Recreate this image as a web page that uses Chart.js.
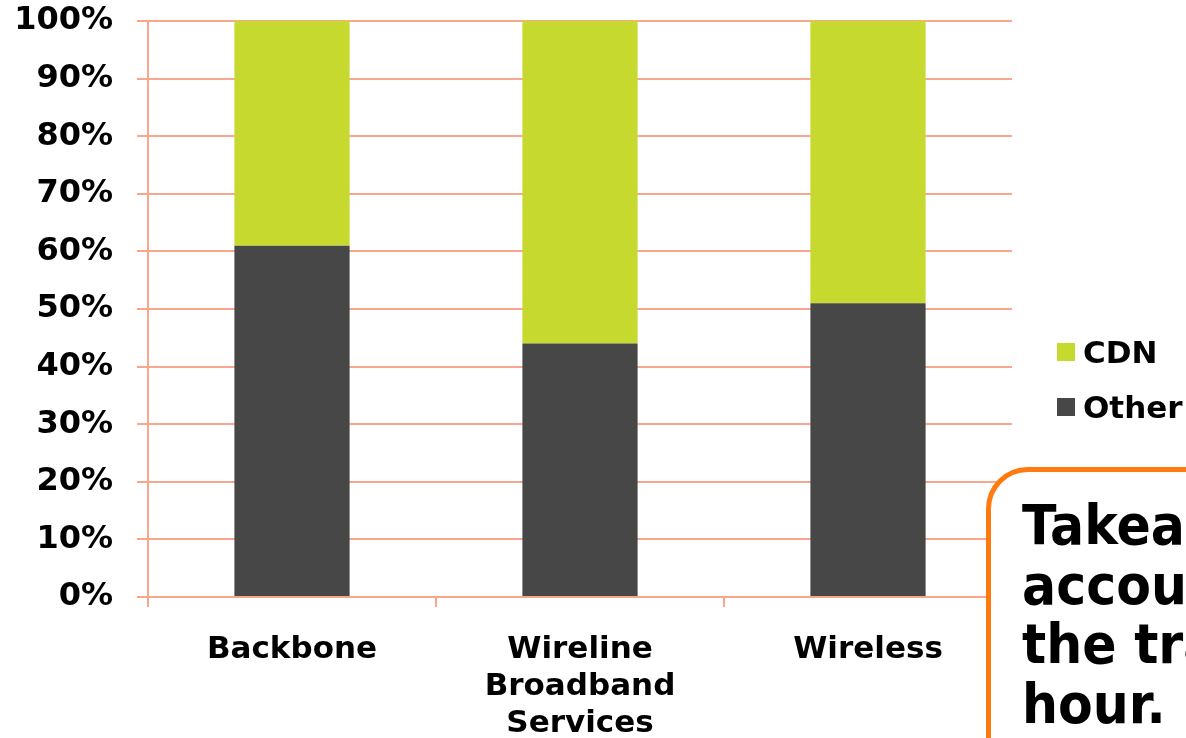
<!DOCTYPE html>
<html>
<head>
<meta charset="utf-8">
<script src="https://cdn.jsdelivr.net/npm/chart.js@4/dist/chart.umd.min.js"></script>
<style>
  html, body { margin: 0; padding: 0; background: #fff; overflow: hidden; }
  #wrap { position: relative; width: 1186px; height: 738px; }
  #legend { position: absolute; left: 1057px; top: 324px; font: bold 31px "DejaVu Sans", sans-serif; color: #000; }
  #legend .item { display: flex; align-items: center; height: 55px; white-space: nowrap; }
  #legend .box { width: 18px; height: 18px; margin-right: 8px; }
  #callout {
    position: absolute; left: 986px; top: 467px; width: 420px; height: 400px;
    border: 5px solid #FF7A0F; border-radius: 42px; background: #fff;
    box-sizing: border-box; padding: 24px 0 0 31px;
    font: bold 55px "DejaVu Sans", sans-serif; line-height: 59.5px; color: #000; white-space: nowrap;
  }
  #callout span { display: inline-block; transform: scaleX(0.92); transform-origin: left top; }
</style>
</head>
<body>
<div id="wrap">
  <canvas id="chart" width="1186" height="738"></canvas>
  <div id="legend"></div>
  <div id="callout"><span>Takeaway: CDNs<br>account for half<br>the traffic in busy<br>hour.</span></div>
</div>
<script>
// categories and stacked shares (percent of traffic)
const categories = ['Backbone', ['Wireline', 'Broadband', 'Services'], 'Wireless'];
const otherShare = [61, 44, 51];
const cdnShare = [39, 56, 49];
const yTicks = [0, 10, 20, 30, 40, 50, 60, 70, 80, 90, 100];

const gridColor = '#F8A68E';
const font = { family: '"DejaVu Sans", sans-serif', weight: 'bold' };

const chart = new Chart(document.getElementById('chart'), {
    type: 'bar',
    data: {
        labels: categories,
        datasets: [
            { label: 'Other', data: otherShare, backgroundColor: '#474747' },
            { label: 'CDN', data: cdnShare, backgroundColor: '#C6D92E' },
        ]
    },
    options: {
        responsive: false,
        animation: false,
        devicePixelRatio: 1,
        layout: { padding: { top: 21, right: 174, left: 0, bottom: 0 } },
        datasets: { bar: { categoryPercentage: 0.4, barPercentage: 1 } },
        plugins: { legend: { display: false }, tooltip: { enabled: false } },
        scales: {
            x: {
                stacked: true,
                grid: { offset: true, drawOnChartArea: false, color: gridColor, lineWidth: 2, tickLength: 10 },
                border: { color: gridColor, width: 2 },
                ticks: {
                    color: '#000', padding: 24, maxRotation: 0, autoSkip: false,
                    font: { ...font, size: 31, lineHeight: 1.2 },
                },
                afterFit: (scale) => { scale.height = 141; },
            },
            y: {
                stacked: true,
                min: 0, max: 100,
                afterBuildTicks: (scale) => { scale.ticks = yTicks.map(v => ({ value: v })); },
                grid: { color: gridColor, lineWidth: 2, tickLength: 11 },
                border: { color: gridColor, width: 2 },
                ticks: {
                    color: '#000', padding: 24,
                    font: { ...font, size: 32 },
                    callback: (v) => v + '%',
                },
                afterFit: (scale) => {
                    scale.width = 148;
                    // labels may hang over the top/bottom edges, no extra room
                    scale.paddingTop = 0;
                    scale.paddingBottom = 0;
                },
            }
        }
    }
});

// legend: top series first, as in the original
const legend = document.getElementById('legend');
chart.data.datasets.slice().reverse().forEach(ds => {
    const item = document.createElement('div');
    item.className = 'item';
    item.innerHTML = `<span class="box" style="background:${ds.backgroundColor}"></span>${ds.label}`;
    legend.appendChild(item);
});
</script>
</body>
</html>
